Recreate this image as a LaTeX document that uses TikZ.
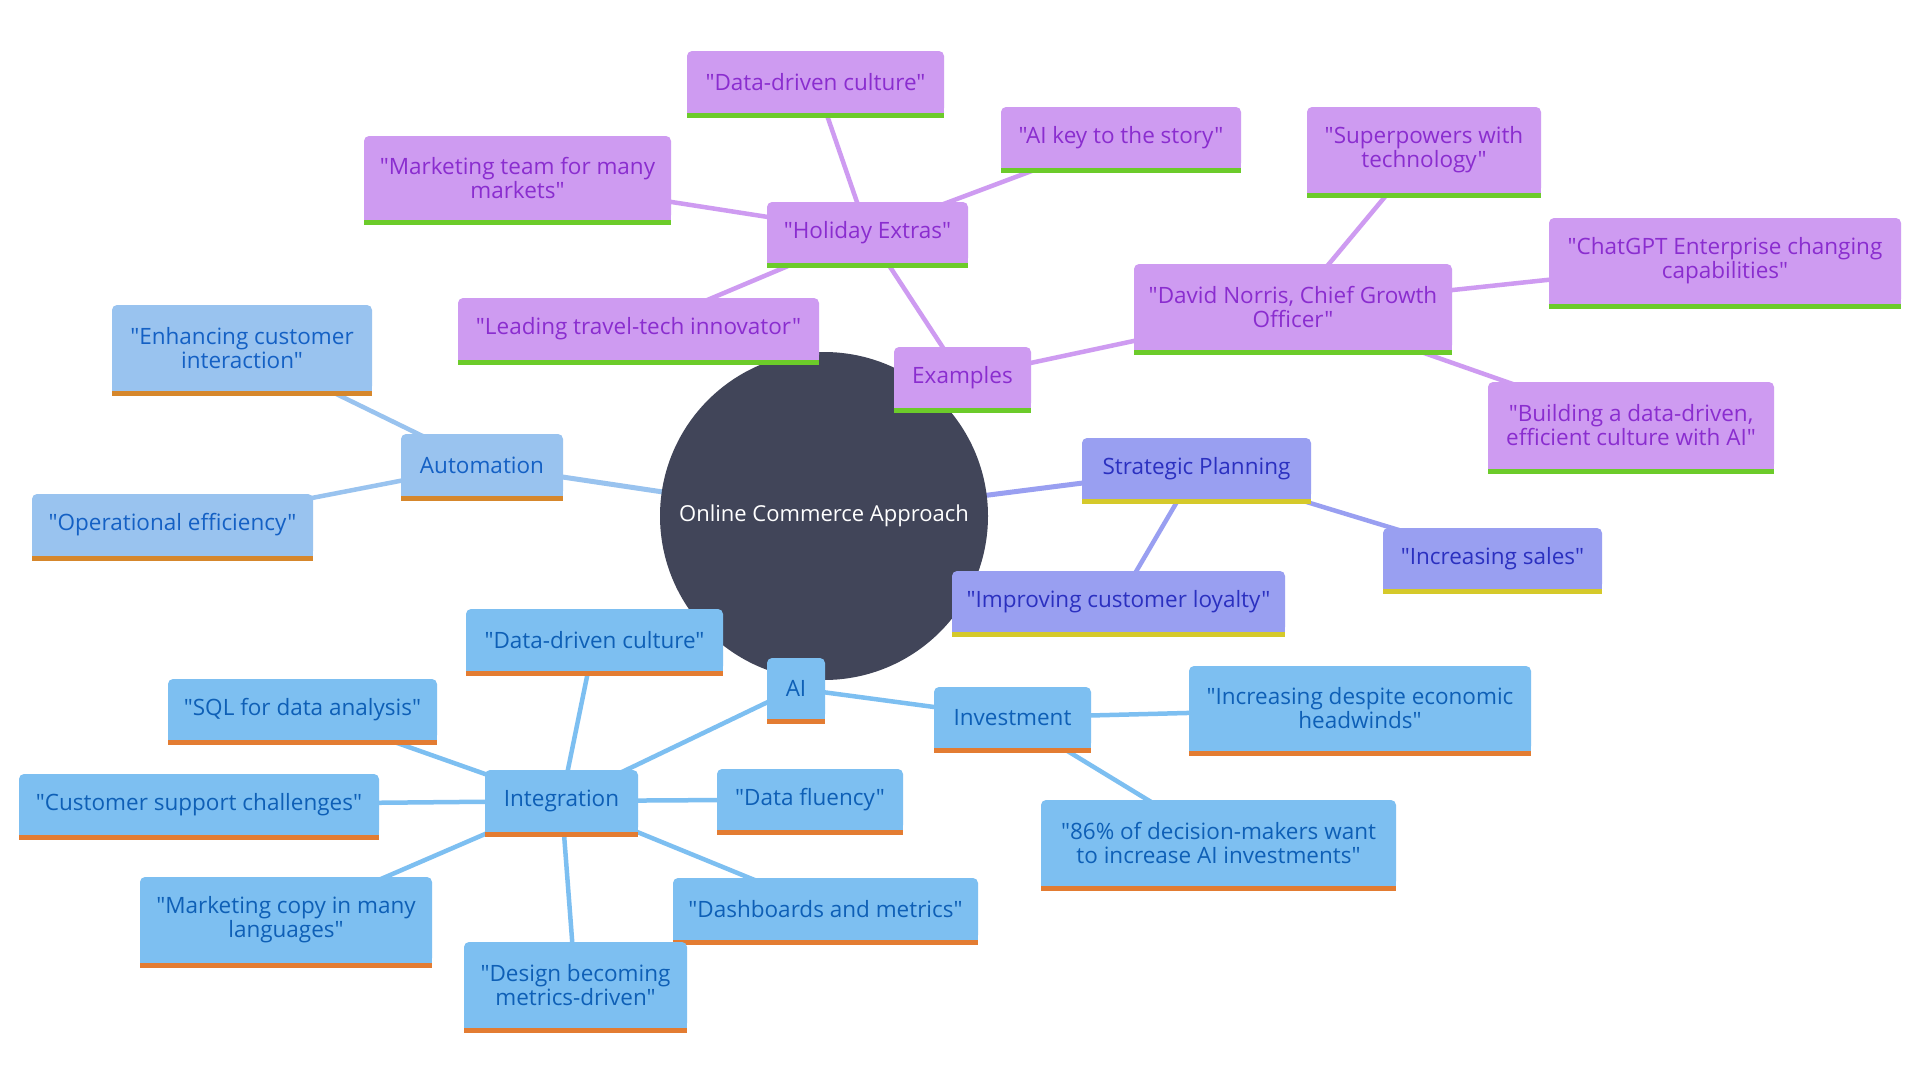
\documentclass[tikz,border=0pt]{standalone}
\usepackage{fontspec}
\setmainfont{Open Sans}[Ligatures=TeXOff]
\usetikzlibrary{backgrounds}
\pgfdeclarelayer{back}
\pgfsetlayers{back,background,main}
\definecolor{cfill}{HTML}{414559}
\definecolor{pfill}{HTML}{CE9BF1}
\definecolor{ptext}{HTML}{8A2DCF}
\definecolor{pbar}{HTML}{6CCB2A}
\definecolor{sfill}{HTML}{999FF1}
\definecolor{stext}{HTML}{2B30C0}
\definecolor{sbar}{HTML}{D5C92A}
\definecolor{afill}{HTML}{99C3EF}
\definecolor{atext}{HTML}{1460C4}
\definecolor{abar}{HTML}{D6872C}
\definecolor{bfill}{HTML}{7DBFF1}
\definecolor{btext}{HTML}{0E5FB6}
\definecolor{bbar}{HTML}{E37C32}
\tikzset{
  box/.style={rectangle, rounded corners=5pt, inner sep=0pt, align=center,
    font=\fontsize{22.5}{24}\selectfont},
  rootnode/.style={circle, fill=cfill, text=white, inner sep=0pt, minimum size=328pt,
    font=\fontsize{22}{24}\selectfont},
  edge1/.style={line width=5pt},
  edge2/.style={line width=4.5pt},
}
% #1 name, #2 branch, #3 left, #4 top, #5 right, #6 bottom, #7 text
\newcommand\mmbox[7]{%
  \node[box, fill=#2fill, text=#2text, minimum width={(#5-#3)*1pt},
        minimum height={(#6-#4-5)*1pt}] (#1) at ({(#3+#5)/2},{(#4+#6-5)/2+1}) {#7};
  \fill[#2fill] ([yshift=6pt]#1.south west) rectangle (#1.south east);
  \fill[#2bar] (#1.south west) rectangle ([yshift=-5pt]#1.south east);
}
\begin{document}
\begin{tikzpicture}[x=1pt,y=-1pt]
\useasboundingbox (0,0) rectangle (1920,1080);
\begin{pgfonlayer}{back}
  \fill[white] (0,0) rectangle (1920,1080);
\end{pgfonlayer}

\node[rootnode] (root) at (824,516) {Online Commerce Approach};

% purple branch
\mmbox{ex}{p}{894}{346}{1031}{412}{Examples}
\mmbox{hol}{p}{767}{201}{968}{267}{"Holiday Extras"}
\mmbox{pddc}{p}{687}{50}{944}{117}{"Data-driven culture"}
\mmbox{aikey}{p}{1001}{106}{1241}{172}{"AI key to the story"}
\mmbox{mkt}{p}{364}{135}{671}{224}{"Marketing team for many\\markets"}
\mmbox{lead}{p}{458}{297}{819}{364}{"Leading travel-tech innovator"}
\mmbox{dav}{p}{1134}{263}{1452}{354}{"David Norris, Chief Growth\\Officer"}
\mmbox{sup}{p}{1307}{106}{1541}{197}{"Superpowers with\\technology"}
\mmbox{chat}{p}{1549}{217}{1901}{308}{"ChatGPT Enterprise changing\\capabilities"}
\mmbox{bld}{p}{1488}{381}{1774}{473}{"Building a data-driven,\\efficient culture with AI"}

% strategic branch
\mmbox{strat}{s}{1082}{437}{1311}{503}{Strategic Planning}
\mmbox{sales}{s}{1383}{527}{1602}{593}{"Increasing sales"}
\mmbox{loy}{s}{952}{570}{1285}{636}{"Improving customer loyalty"}

% automation branch
\mmbox{auto}{a}{401}{433}{563}{500}{Automation}
\mmbox{enh}{a}{112}{304}{372}{395}{"Enhancing customer\\interaction"}
\mmbox{opeff}{a}{32}{493}{313}{560}{"Operational efficiency"}

% AI branch
\mmbox{ai}{b}{767}{657}{825}{723}{AI}
\mmbox{inv}{b}{934}{686}{1091}{752}{Investment}
\mmbox{headw}{b}{1189}{665}{1531}{755}{"Increasing despite economic\\headwinds"}
\mmbox{dm}{b}{1041}{799}{1396}{890}{"86\% of decision-makers want\\to increase AI investments"}
\mmbox{integ}{b}{485}{769}{638}{836}{Integration}
\mmbox{bddc}{b}{466}{608}{723}{675}{"Data-driven culture"}
\mmbox{sql}{b}{168}{678}{437}{744}{"SQL for data analysis"}
\mmbox{cust}{b}{19}{773}{379}{839}{"Customer support challenges"}
\mmbox{flu}{b}{717}{768}{903}{834}{"Data fluency"}
\mmbox{mcopy}{b}{140}{876}{432}{967}{"Marketing copy in many\\languages"}
\mmbox{dash}{b}{673}{877}{978}{944}{"Dashboards and metrics"}
\mmbox{design}{b}{464}{941}{687}{1032}{"Design becoming\\metrics-driven"}

\begin{pgfonlayer}{background}
  \draw[edge1, pfill] (root.center) -- (ex.center);
  \draw[edge1, sfill] (root.center) -- (strat.center);
  \draw[edge1, afill] (root.center) -- (auto.center);
  \draw[edge1, bfill] (root.center) -- (ai.center);
  \draw[edge2, pfill] (ex.center) -- (hol.center);
  \draw[edge2, pfill] (ex.center) -- (dav.center);
  \draw[edge2, pfill] (hol.center) -- (pddc.center);
  \draw[edge2, pfill] (hol.center) -- (aikey.center);
  \draw[edge2, pfill] (hol.center) -- (mkt.center);
  \draw[edge2, pfill] (hol.center) -- (lead.center);
  \draw[edge2, pfill] (dav.center) -- (sup.center);
  \draw[edge2, pfill] (dav.center) -- (chat.center);
  \draw[edge2, pfill] (dav.center) -- (bld.center);
  \draw[edge2, sfill] (strat.center) -- (sales.center);
  \draw[edge2, sfill] (strat.center) -- (loy.center);
  \draw[edge2, afill] (auto.center) -- (enh.center);
  \draw[edge2, afill] (auto.center) -- (opeff.center);
  \draw[edge2, bfill] (ai.center) -- (inv.center);
  \draw[edge2, bfill] (ai.center) -- (integ.center);
  \draw[edge2, bfill] (inv.center) -- (headw.center);
  \draw[edge2, bfill] (inv.center) -- (dm.center);
  \draw[edge2, bfill] (integ.center) -- (bddc.center);
  \draw[edge2, bfill] (integ.center) -- (sql.center);
  \draw[edge2, bfill] (integ.center) -- (cust.center);
  \draw[edge2, bfill] (integ.center) -- (flu.center);
  \draw[edge2, bfill] (integ.center) -- (mcopy.center);
  \draw[edge2, bfill] (integ.center) -- (dash.center);
  \draw[edge2, bfill] (integ.center) -- (design.center);
\end{pgfonlayer}
\end{tikzpicture}
\end{document}
